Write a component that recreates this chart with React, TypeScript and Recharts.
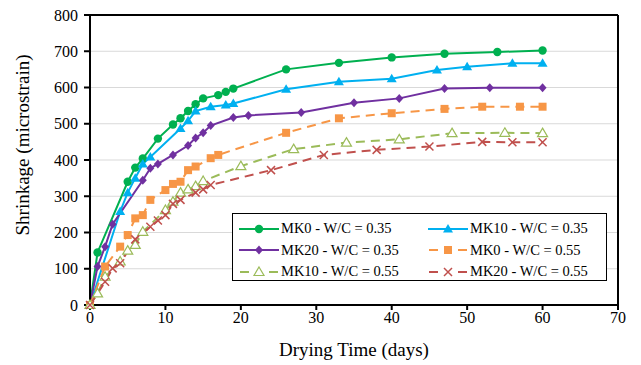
import React from 'react';
import {
  LineChart,
  Line,
  XAxis,
  YAxis,
  CartesianGrid,
  ReferenceLine,
} from 'recharts';

// drying time (days) and shrinkage (microstrain), one pair of arrays per mix
const mk0w35Days = [0, 1, 5, 6, 7, 9, 11, 12, 13, 14, 15, 17, 18, 19, 26, 33, 40, 47, 54, 60];
const mk0w35Vals = [0, 145, 340, 379, 404, 459, 498, 515, 535, 554, 570, 579, 588, 597, 650, 668, 683, 693, 698, 702];

const mk10w35Days = [0, 4, 5, 6, 7, 8, 12, 13, 14, 16, 18, 19, 26, 33, 40, 46, 50, 56, 60];
const mk10w35Vals = [0, 258, 310, 350, 389, 408, 487, 508, 535, 547, 552, 556, 595, 616, 624, 648, 657, 667, 667];

const mk20w35Days = [0, 1, 2, 3, 7, 8, 9, 11, 13, 14, 15, 16, 19, 21, 28, 35, 41, 47, 53, 60];
const mk20w35Vals = [0, 106, 161, 223, 344, 377, 389, 414, 440, 461, 475, 495, 517, 523, 531, 558, 570, 597, 599, 599];

const mk0w55Days = [0, 2, 4, 5, 6, 7, 8, 10, 11, 12, 13, 14, 16, 17, 26, 33, 40, 47, 52, 57, 60];
const mk0w55Vals = [0, 106, 161, 193, 239, 248, 290, 317, 334, 340, 372, 382, 405, 414, 475, 515, 529, 541, 547, 547, 547];

const mk10w55Days = [0, 1, 2, 4, 5, 6, 7, 10, 11, 12, 13, 14, 15, 20, 27, 34, 41, 48, 55, 60];
const mk10w55Vals = [0, 32, 78, 120, 150, 166, 202, 262, 285, 310, 319, 328, 342, 383, 430, 448, 457, 474, 475, 474];

const mk20w55Days = [0, 2, 3, 4, 6, 8, 9, 10, 11, 12, 14, 15, 16, 24, 31, 38, 45, 52, 56, 60];
const mk20w55Vals = [0, 64, 101, 115, 181, 216, 233, 248, 279, 290, 310, 319, 331, 372, 414, 428, 437, 450, 449, 449];

const xTicks = [0, 10, 20, 30, 40, 50, 60, 70];
const yTicks = [0, 100, 200, 300, 400, 500, 600, 700, 800];

const FONT = '"Liberation Serif", "Times New Roman", serif';

type Kind = 'circle' | 'triangle' | 'diamond' | 'square' | 'openTriangle' | 'cross';

const zip = (days: number[], vals: number[]) => days.map((d, i) => ({ day: d, value: vals[i] }));

const series = [
  { name: 'MK0 - W/C = 0.35', data: zip(mk0w35Days, mk0w35Vals), color: '#00B050', kind: 'circle' as Kind, dashed: false },
  { name: 'MK10 - W/C = 0.35', data: zip(mk10w35Days, mk10w35Vals), color: '#00B0F0', kind: 'triangle' as Kind, dashed: false },
  { name: 'MK20 - W/C = 0.35', data: zip(mk20w35Days, mk20w35Vals), color: '#7030A0', kind: 'diamond' as Kind, dashed: false },
  { name: 'MK0 - W/C = 0.55', data: zip(mk0w55Days, mk0w55Vals), color: '#F79646', kind: 'square' as Kind, dashed: true },
  { name: 'MK10 - W/C = 0.55', data: zip(mk10w55Days, mk10w55Vals), color: '#9BBB59', kind: 'openTriangle' as Kind, dashed: true },
  { name: 'MK20 - W/C = 0.55', data: zip(mk20w55Days, mk20w55Vals), color: '#C0504D', kind: 'cross' as Kind, dashed: true },
];

function Marker({ kind, cx, cy, color }: { kind: Kind; cx: number; cy: number; color: string }) {
  switch (kind) {
    case 'circle':
      return <circle cx={cx} cy={cy} r={4.2} fill={color} />;
    case 'triangle':
      return <path d={`M${cx},${cy - 5} L${cx + 5},${cy + 3.5} L${cx - 5},${cy + 3.5} Z`} fill={color} />;
    case 'diamond':
      return <path d={`M${cx},${cy - 4.5} L${cx + 4},${cy} L${cx},${cy + 4.5} L${cx - 4},${cy} Z`} fill={color} />;
    case 'square':
      return <rect x={cx - 4} y={cy - 4} width={8} height={8} fill={color} />;
    case 'openTriangle':
      return (
        <path
          d={`M${cx},${cy - 5} L${cx + 5},${cy + 3.5} L${cx - 5},${cy + 3.5} Z`}
          fill="#fff"
          stroke={color}
          strokeWidth={1.2}
        />
      );
    case 'cross':
      return (
        <path
          d={`M${cx - 4},${cy - 4} L${cx + 4},${cy + 4} M${cx + 4},${cy - 4} L${cx - 4},${cy + 4}`}
          stroke={color}
          strokeWidth={1.5}
        />
      );
  }
}

function LegendSample({ color, kind, dashed }: { color: string; kind: Kind; dashed: boolean }) {
  return (
    <svg width={40} height={14} style={{ display: 'block', flex: 'none' }}>
      {dashed ? (
        <>
          <line x1={1} y1={7} x2={10} y2={7} stroke={color} strokeWidth={2} />
          <line x1={30} y1={7} x2={39} y2={7} stroke={color} strokeWidth={2} />
        </>
      ) : (
        <line x1={0} y1={7} x2={40} y2={7} stroke={color} strokeWidth={2} />
      )}
      <Marker kind={kind} cx={20} cy={7} color={color} />
    </svg>
  );
}

export default function App() {
  return (
    <div style={{ position: 'absolute', left: 0, top: 0, width: 641, height: 365, background: '#fff', fontFamily: FONT }}>
      <LineChart width={641} height={365} margin={{ top: 15, right: 23, bottom: 0, left: 0 }}>
        <CartesianGrid horizontal vertical={false} stroke="#D9D9D9" strokeWidth={1.2} />
        <XAxis
          type="number"
          dataKey="day"
          domain={[0, 70]}
          ticks={xTicks}
          height={60}
          stroke="#000"
          strokeWidth={2}
          tickSize={5}
          tickMargin={2}
          tick={{ fontSize: 16, fill: '#000', fontFamily: FONT }}
          label={{ value: 'Drying Time (days)', position: 'insideBottom', offset: 9, fontSize: 19, fill: '#000', fontFamily: FONT }}
        />
        <YAxis
          type="number"
          domain={[0, 800]}
          ticks={yTicks}
          width={90}
          stroke="#000"
          strokeWidth={2}
          tickSize={6}
          tickMargin={6}
          tick={{ fontSize: 16, fill: '#000', fontFamily: FONT }}
          label={{
            value: 'Shrinkage (microstrain)',
            angle: -90,
            position: 'insideLeft',
            offset: 22,
            dy: -15,
            style: { textAnchor: 'middle' },
            fontSize: 19,
            fill: '#000',
            fontFamily: FONT,
          }}
        />
        <ReferenceLine y={800} stroke="#000" strokeWidth={2} />
        <ReferenceLine x={70} stroke="#000" strokeWidth={2} />
        {series.map(s => (
          <Line
            key={s.name}
            data={s.data}
            dataKey="value"
            name={s.name}
            type="linear"
            stroke={s.color}
            strokeWidth={2}
            strokeDasharray={s.dashed ? '9 6' : undefined}
            isAnimationActive={false}
            activeDot={false}
            dot={(p: any) => <Marker key={`${s.name}-${p.index}`} kind={s.kind} cx={p.cx} cy={p.cy} color={s.color} />}
          />
        ))}
      </LineChart>
      <div
        style={{
          position: 'absolute',
          left: 232,
          top: 213,
          width: 375,
          height: 68,
          border: '1.5px solid #000',
          background: '#fff',
          display: 'grid',
          gridTemplateColumns: '189px 184px',
          gridAutoRows: '21.5px',
          paddingTop: 4,
          boxSizing: 'border-box',
          fontSize: 14.5,
          color: '#000',
        }}
      >
        {series.map(s => (
          <div key={s.name} style={{ display: 'flex', alignItems: 'center', paddingLeft: 6, whiteSpace: 'nowrap' }}>
            <LegendSample color={s.color} kind={s.kind} dashed={s.dashed} />
            <span style={{ marginLeft: 2 }}>{s.name}</span>
          </div>
        ))}
      </div>
    </div>
  );
}
